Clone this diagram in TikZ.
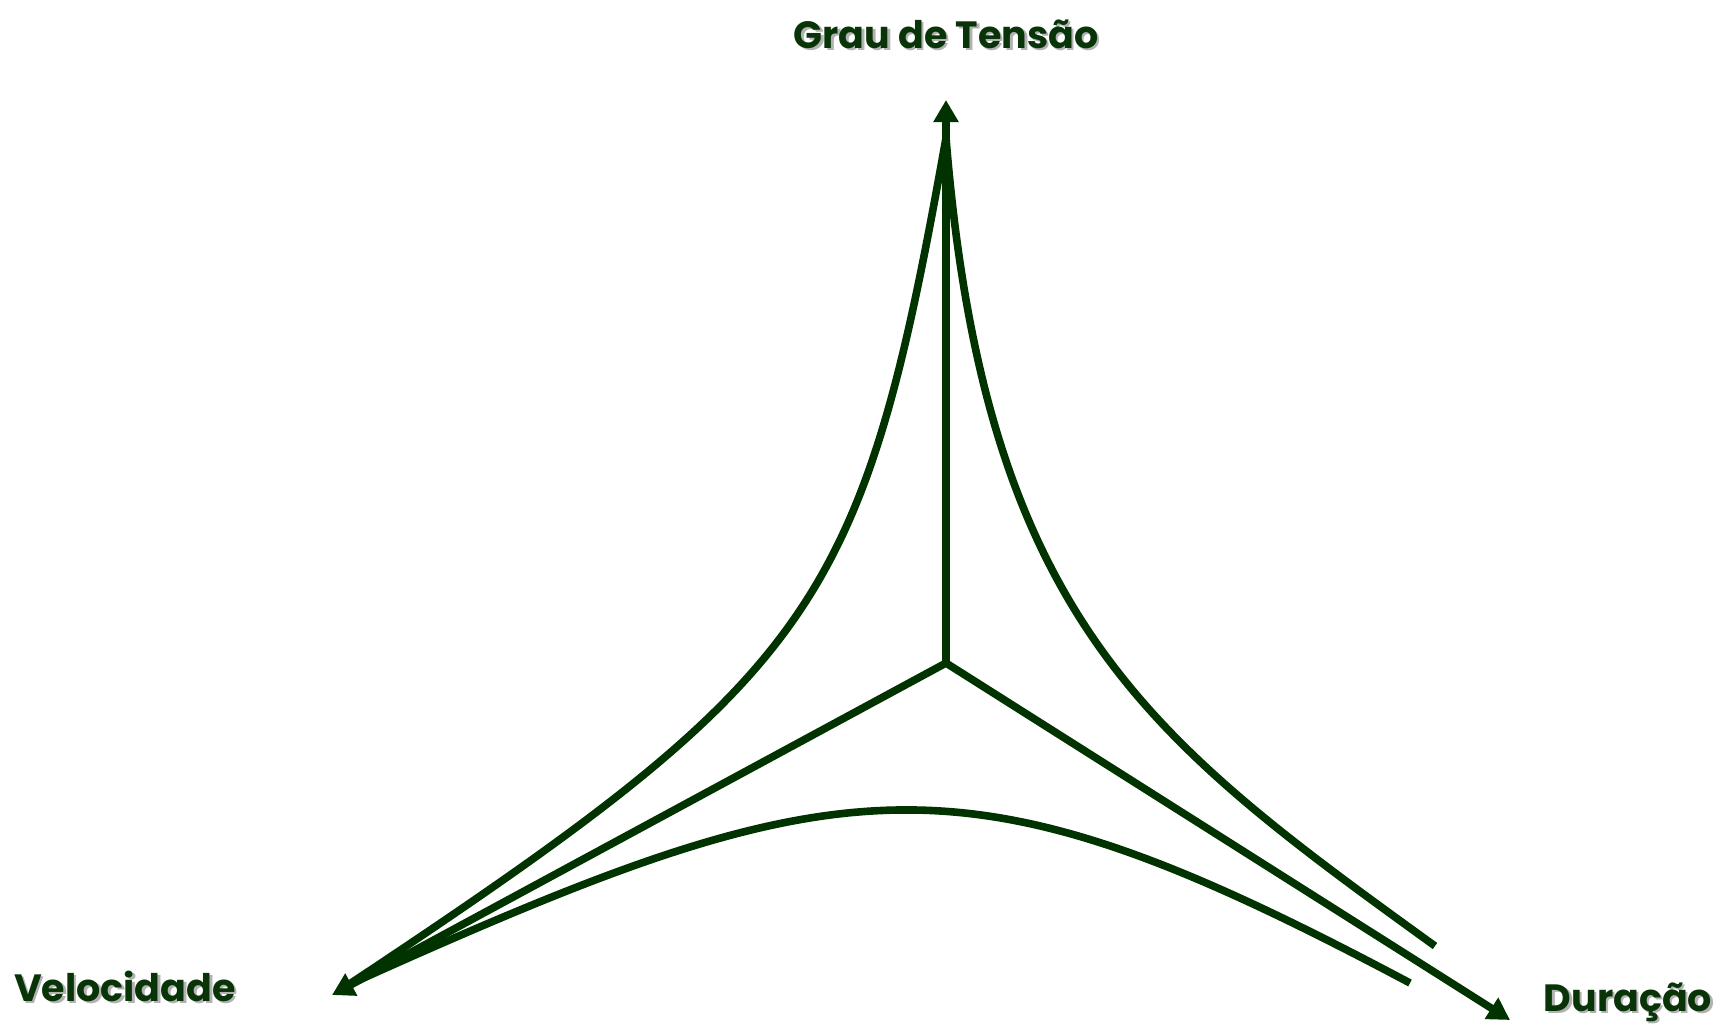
\documentclass[tikz,border=0pt]{standalone}
\usepackage{fontspec}
\setmainfont{Poppins}
\usetikzlibrary{arrows.meta}
\definecolor{dg}{RGB}{0,51,0}
\definecolor{lab}{RGB}{8,52,8}
\begin{document}
\begin{tikzpicture}[x=0.5pt,y=-0.5pt,
  axis/.style={draw=dg, line width=3.8pt, -{Triangle[length=11pt,width=12pt]}},
  curvy/.style={draw=dg, line width=3.8pt},
  lbl/.style={font=\fontsize{19}{22}\selectfont\bfseries, text=lab, inner sep=0pt},
  shd/.style={lbl, text=black!30}]
\path[use as bounding box] (0,0) rectangle (1721,1030);
\coordinate (O) at (946,663);
\coordinate (T) at (946,100);
\coordinate (L) at (332,995);
\coordinate (R) at (1510,1020);
\coordinate (A) at (946,138);
\coordinate (LE) at (348,985);
\coordinate (RE) at (1435,946);
\coordinate (BE) at (1410,983);
% curves
\draw[curvy] (A) .. controls (862,610) and (820,672) .. (LE);
\draw[curvy] (A) .. controls (985,620) and (1150,740) .. (RE);
\draw[curvy] (LE) .. controls (848,760) and (960,744) .. (BE);
% axes
\draw[axis] (O) -- (T);
\draw[axis] (O) -- (L);
\draw[axis] (O) -- (R);
% labels with shadow
\node[shd] (tlabs) at (948.5,36.5) {Grau de Tensão};
\node[lbl] (tlab) at (946,34) {Grau de Tensão};
\node[shd] (vlabs) at (127.5,988.5) {Velocidade};
\node[lbl] (vlab) at (125,986) {Velocidade};
\node[shd] (dlabs) at (1630.5,1004.5) {Duração};
\node[lbl] (dlab) at (1628,1002) {Duração};
\end{tikzpicture}
\end{document}
